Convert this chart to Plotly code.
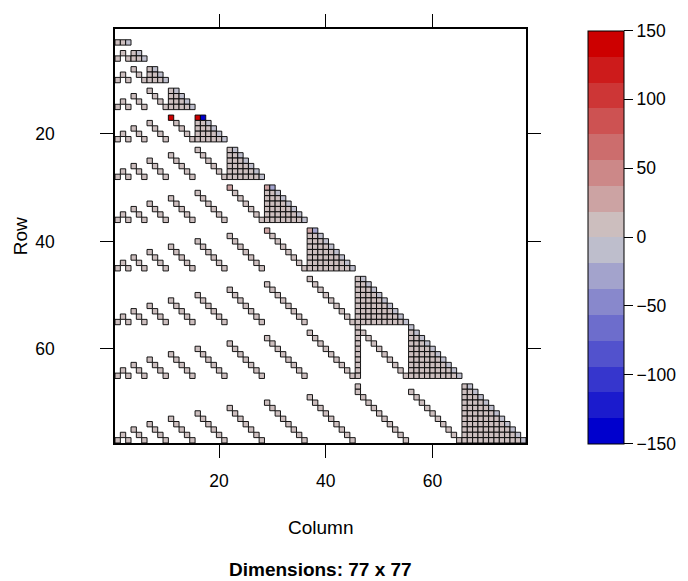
import numpy as np
import plotly.graph_objects as go

N = 77
# diagonal block sizes (rows/cols grouped)
block_sizes = [1, 2, 3, 4, 5, 6, 7, 8, 9, 10, 10, 12]
# whether the first diagonal cell of each block is nonzero
first_diag_kept = [False] * 10 + [True, False]
# extra non-zeros outside the regular pattern
extra_rows = [57, 58, 59, 60, 61, 62, 63, 64, 65, 67]
extra_cols = [46, 46, 46, 46, 46, 46, 46, 46, 46, 46]
# cells with distinct (non-gray) values
special_rows = [17, 17, 17, 30, 30, 30, 38, 38, 38]
special_cols = [11, 16, 17, 22, 29, 30, 29, 37, 38]
special_vals = [140, 140, -140, 28, 28, -28, 28, 28, -28]
offdiag_val = 6
diag_val = -6

colorbar_ticks = [-150, -100, -50, 0, 50, 100, 150]
axis_ticks = [20, 40, 60]

# ---- build sparse pattern ----
starts = np.cumsum([0] + block_sizes[:-1]) + 1
ends = starts + np.array(block_sizes) - 1
cells = {}
for I, (a, b) in enumerate(zip(starts, ends)):
    for r in range(a, b + 1):
        for c in range(a, r + 1):
            if r == a and c == a and not first_diag_kept[I]:
                continue
            cells[(r, c)] = diag_val if r == c else offdiag_val
    for J in range(I):
        aJ, bJ = starts[J], ends[J]
        s = bJ - aJ + 1
        for k in range(s):
            cells[(b - s + 1 + k, aJ + k)] = offdiag_val
for r, c in zip(extra_rows, extra_cols):
    cells[(r, c)] = offdiag_val
for r, c, v in zip(special_rows, special_cols, special_vals):
    cells[(r, c)] = v

keys = sorted(cells)
rows = [int(k[0]) for k in keys]
cols = [int(k[1]) for k in keys]
vals = [cells[k] for k in keys]

# ---- binned blue3-gray80-red3 palette (16 levels) ----
def ramp(t):
    lo, mid, hi = np.array([0, 0, 205]), np.array([204, 204, 204]), np.array([205, 0, 0])
    if t <= 0.5:
        c = lo + (mid - lo) * (t / 0.5)
    else:
        c = mid + (hi - mid) * ((t - 0.5) / 0.5)
    return "rgb(%d,%d,%d)" % tuple(np.round(c).astype(int))

nb = 16
colorscale = []
for i in range(nb):
    col = ramp(i / (nb - 1))
    colorscale.append([i / nb, col])
    colorscale.append([(i + 1) / nb, col])

W, H = 688, 581
L, R, T, B = 115, 161, 29, 138
pw = W - L - R
ph = H - T - B
fontfam = "Liberation Sans, Arial, sans-serif"
tick_fs = 17.5
title_fs = 19

fig = go.Figure()
fig.add_trace(go.Scatter(
    x=cols, y=rows, mode="markers",
    marker=dict(
        symbol="square", size=5.35, color=vals,
        colorscale=colorscale, cmin=-150, cmax=150,
        line=dict(color="black", width=0.9),
        showscale=True,
        colorbar=dict(
            x=(588 - L) / pw, xanchor="left",
            y=1 - (30.5 - T) / ph, yanchor="top",
            lenmode="pixels", len=413,
            thicknessmode="pixels", thickness=36,
            xpad=0, ypad=0,
            outlinecolor="black", outlinewidth=1,
            tickvals=colorbar_ticks, ticks="outside", ticklen=9,
            tickcolor="black", tickwidth=1,
            tickfont=dict(size=tick_fs, color="black", family=fontfam),
        ),
    ),
    hoverinfo="skip",
))

axis_common = dict(
    tickvals=axis_ticks, ticks="outside", ticklen=13, tickwidth=1,
    tickcolor="black", showline=True, linecolor="black", linewidth=1.5,
    mirror="ticks", showgrid=False, zeroline=False,
    tickfont=dict(size=tick_fs, color="black", family=fontfam),
)
fig.update_xaxes(range=[0.5, N + 0.5], ticklabelstandoff=8, **axis_common)
fig.update_yaxes(range=[N + 0.5, 0.5], ticklabelstandoff=42, **axis_common)

fig.add_annotation(text="Column", x=0.5, y=(443 - 527) / ph, xref="paper", yref="paper",
                   showarrow=False, yanchor="middle",
                   font=dict(size=title_fs, color="black", family=fontfam))
fig.add_annotation(text="<b>Dimensions: 77 x 77</b>", x=0.5, y=(443 - 569) / ph,
                   xref="paper", yref="paper", showarrow=False, yanchor="middle",
                   font=dict(size=title_fs, color="black", family=fontfam))
fig.add_annotation(text="Row", x=(20 - L) / pw, y=0.5, xref="paper", yref="paper",
                   showarrow=False, textangle=-90, xanchor="center",
                   font=dict(size=title_fs, color="black", family=fontfam))

fig.update_layout(
    width=W, height=H,
    margin=dict(l=L, r=R, t=T, b=B),
    paper_bgcolor="white", plot_bgcolor="white",
    showlegend=False,
)
fig.write_html("out.html")
